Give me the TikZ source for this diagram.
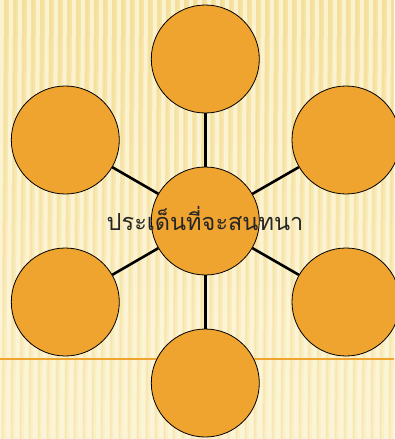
\documentclass[tikz,border=0pt]{standalone}
\usepackage{fontspec}
\newfontfamily\thaifont[Script=Thai]{Loma}
\definecolor{bgbase}{HTML}{F9EBBA}
\definecolor{bgtop}{HTML}{F6E29F}
\definecolor{bgbot}{HTML}{FBF0C8}
\definecolor{bgstripe}{HTML}{FDF6DC}
\definecolor{bgdark}{HTML}{EFD890}
\definecolor{circfill}{HTML}{EFA430}
\definecolor{rulecol}{HTML}{EFA430}
\tikzset{
  bubble/.style={circle, draw=black, line width=0.8pt, fill=circfill, minimum size=108pt, inner sep=0pt},
  spoke/.style={draw=black, line width=2.6pt},
}
\begin{document}
\begin{tikzpicture}[x=1pt,y=-1pt]
\useasboundingbox (0,0) rectangle (394,439);
% background
\shade[top color=bgtop, bottom color=bgbot] (0,0) rectangle (394,439);
\foreach \i in {0,9,...,400} {
  \fill[bgstripe,opacity=0.8] (\i,0) -- (\i+4,0) -- (\i+1,439) -- (\i-3,439) -- cycle;
  \fill[bgdark,opacity=0.35] (\i+5,0) -- (\i+6.5,0) -- (\i+3.5,439) -- (\i+2,439) -- cycle;
}
% orange rule
\coordinate (ruleL) at (0,359);
\coordinate (ruleR) at (394,359);
\draw[rulecol, line width=1.8pt] (ruleL) -- (ruleR);
% nodes
\node[bubble] (c) at (205.3,221) {};
\node[bubble] (t) at (205.3,59) {};
\node[bubble] (ul) at (65.3,140) {};
\node[bubble] (ur) at (346,140) {};
\node[bubble] (ll) at (65.3,302) {};
\node[bubble] (lr) at (346,302) {};
\node[bubble] (b) at (205.3,383) {};
% spokes
\draw[spoke] (c) -- (t);
\draw[spoke] (c) -- (ul);
\draw[spoke] (c) -- (ur);
\draw[spoke] (c) -- (ll);
\draw[spoke] (c) -- (lr);
\draw[spoke] (c) -- (b);
% label
\node[text=black!85, font=\thaifont\fontsize{23.5}{27}\selectfont, inner sep=0pt] (lab) at (205,218) {ประเด็นที่จะสนทนา};
\end{tikzpicture}
\end{document}
